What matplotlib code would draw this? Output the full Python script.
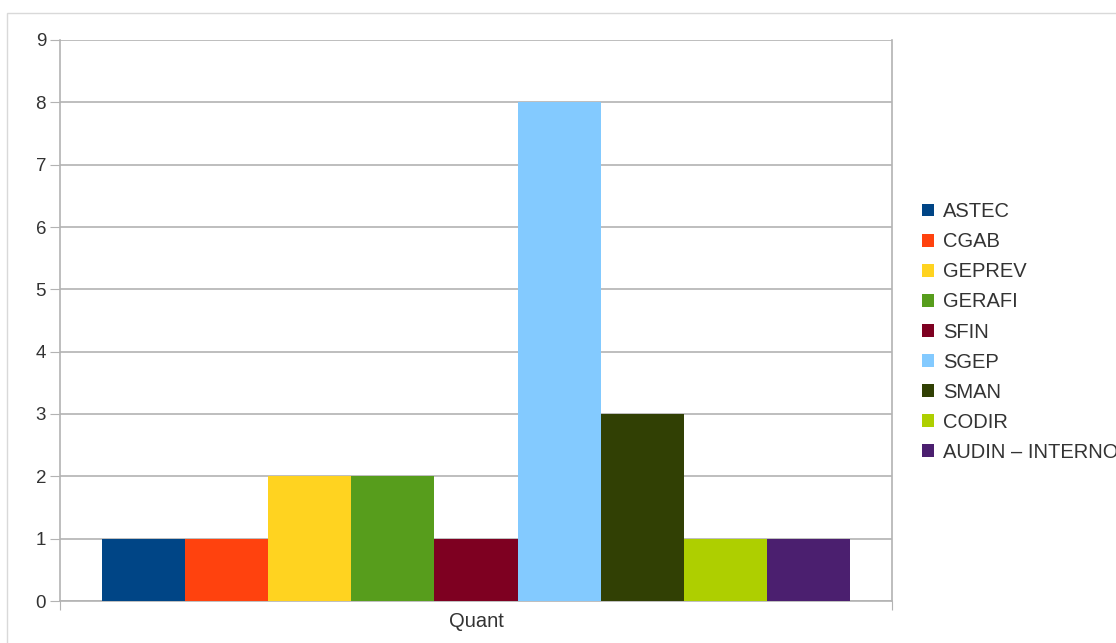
import matplotlib.pyplot as plt
from matplotlib.patches import Rectangle, Patch

# data
categories = ['ASTEC', 'CGAB', 'GEPREV', 'GERAFI', 'SFIN', 'SGEP', 'SMAN', 'CODIR', 'AUDIN – INTERNO']
values = [1, 1, 2, 2, 1, 8, 3, 1, 1]
colors = ['#004586', '#ff420e', '#ffd320', '#579d1c', '#7e0021',
          '#83caff', '#314004', '#aecf00', '#4b1f6f']
group_label = 'Quant'

plt.rcParams['font.family'] = ['Liberation Sans', 'DejaVu Sans']
grid_col = '#b3b3b3'
text_col = '#333333'

fig = plt.figure(figsize=(11.16, 6.43), dpi=100)
fig.patch.set_facecolor('white')

# light frame around the chart (as in the screenshot)
fig.patches.append(Rectangle((7 / 1116, -0.01), 1.1, (643 - 13) / 643 + 0.01,
                             transform=fig.transFigure, fill=False,
                             edgecolor='#d9d9d9', linewidth=1))

ax = fig.add_axes([60 / 1116, 42 / 643, 832 / 1116, 561 / 643])

#bars grouped round a single category at x=0
n = len(values)
width = 0.9 / n
for i, (v, c) in enumerate(zip(values, colors)):
    x = -0.45 + width * (i + 0.5)
    ax.bar(x, v, width=width, color=c, label=categories[i], zorder=3)

ax.set_xlim(-0.5, 0.5)
ax.set_ylim(0, 9)
ax.set_yticks(range(0, 10))
ax.tick_params(axis='y', length=7, color=grid_col, labelsize=13.5,
               labelcolor=text_col, pad=3)
ax.yaxis.grid(True, color=grid_col, linewidth=1.2, zorder=0)

# category boundary ticks on x axis, label in the middle
ax.set_xticks([-0.5, 0.5])
ax.set_xticklabels(['', ''])
ax.tick_params(axis='x', length=6.5, color=grid_col, direction='out')
ax.text(0, -0.18, group_label, ha='center', va='top', fontsize=14.5,
        color=text_col, transform=ax.transData)

for side in ['left', 'right', 'bottom']:
    ax.spines[side].set_color(grid_col)
    ax.spines[side].set_linewidth(1.2)
ax.spines['top'].set_visible(False)

# legend runs past the right edge, as in the original
handles = [Patch(facecolor=c, edgecolor='none') for c in colors]
fig.legend(handles, categories, loc='center left',
           bbox_to_anchor=(904 / 1116, (643 - 332) / 643),
           frameon=False, fontsize=14.5, handlelength=0.6, handleheight=0.6,
           handletextpad=0.45, labelspacing=0.55, labelcolor=text_col)

fig.savefig('out.png', dpi=100)
